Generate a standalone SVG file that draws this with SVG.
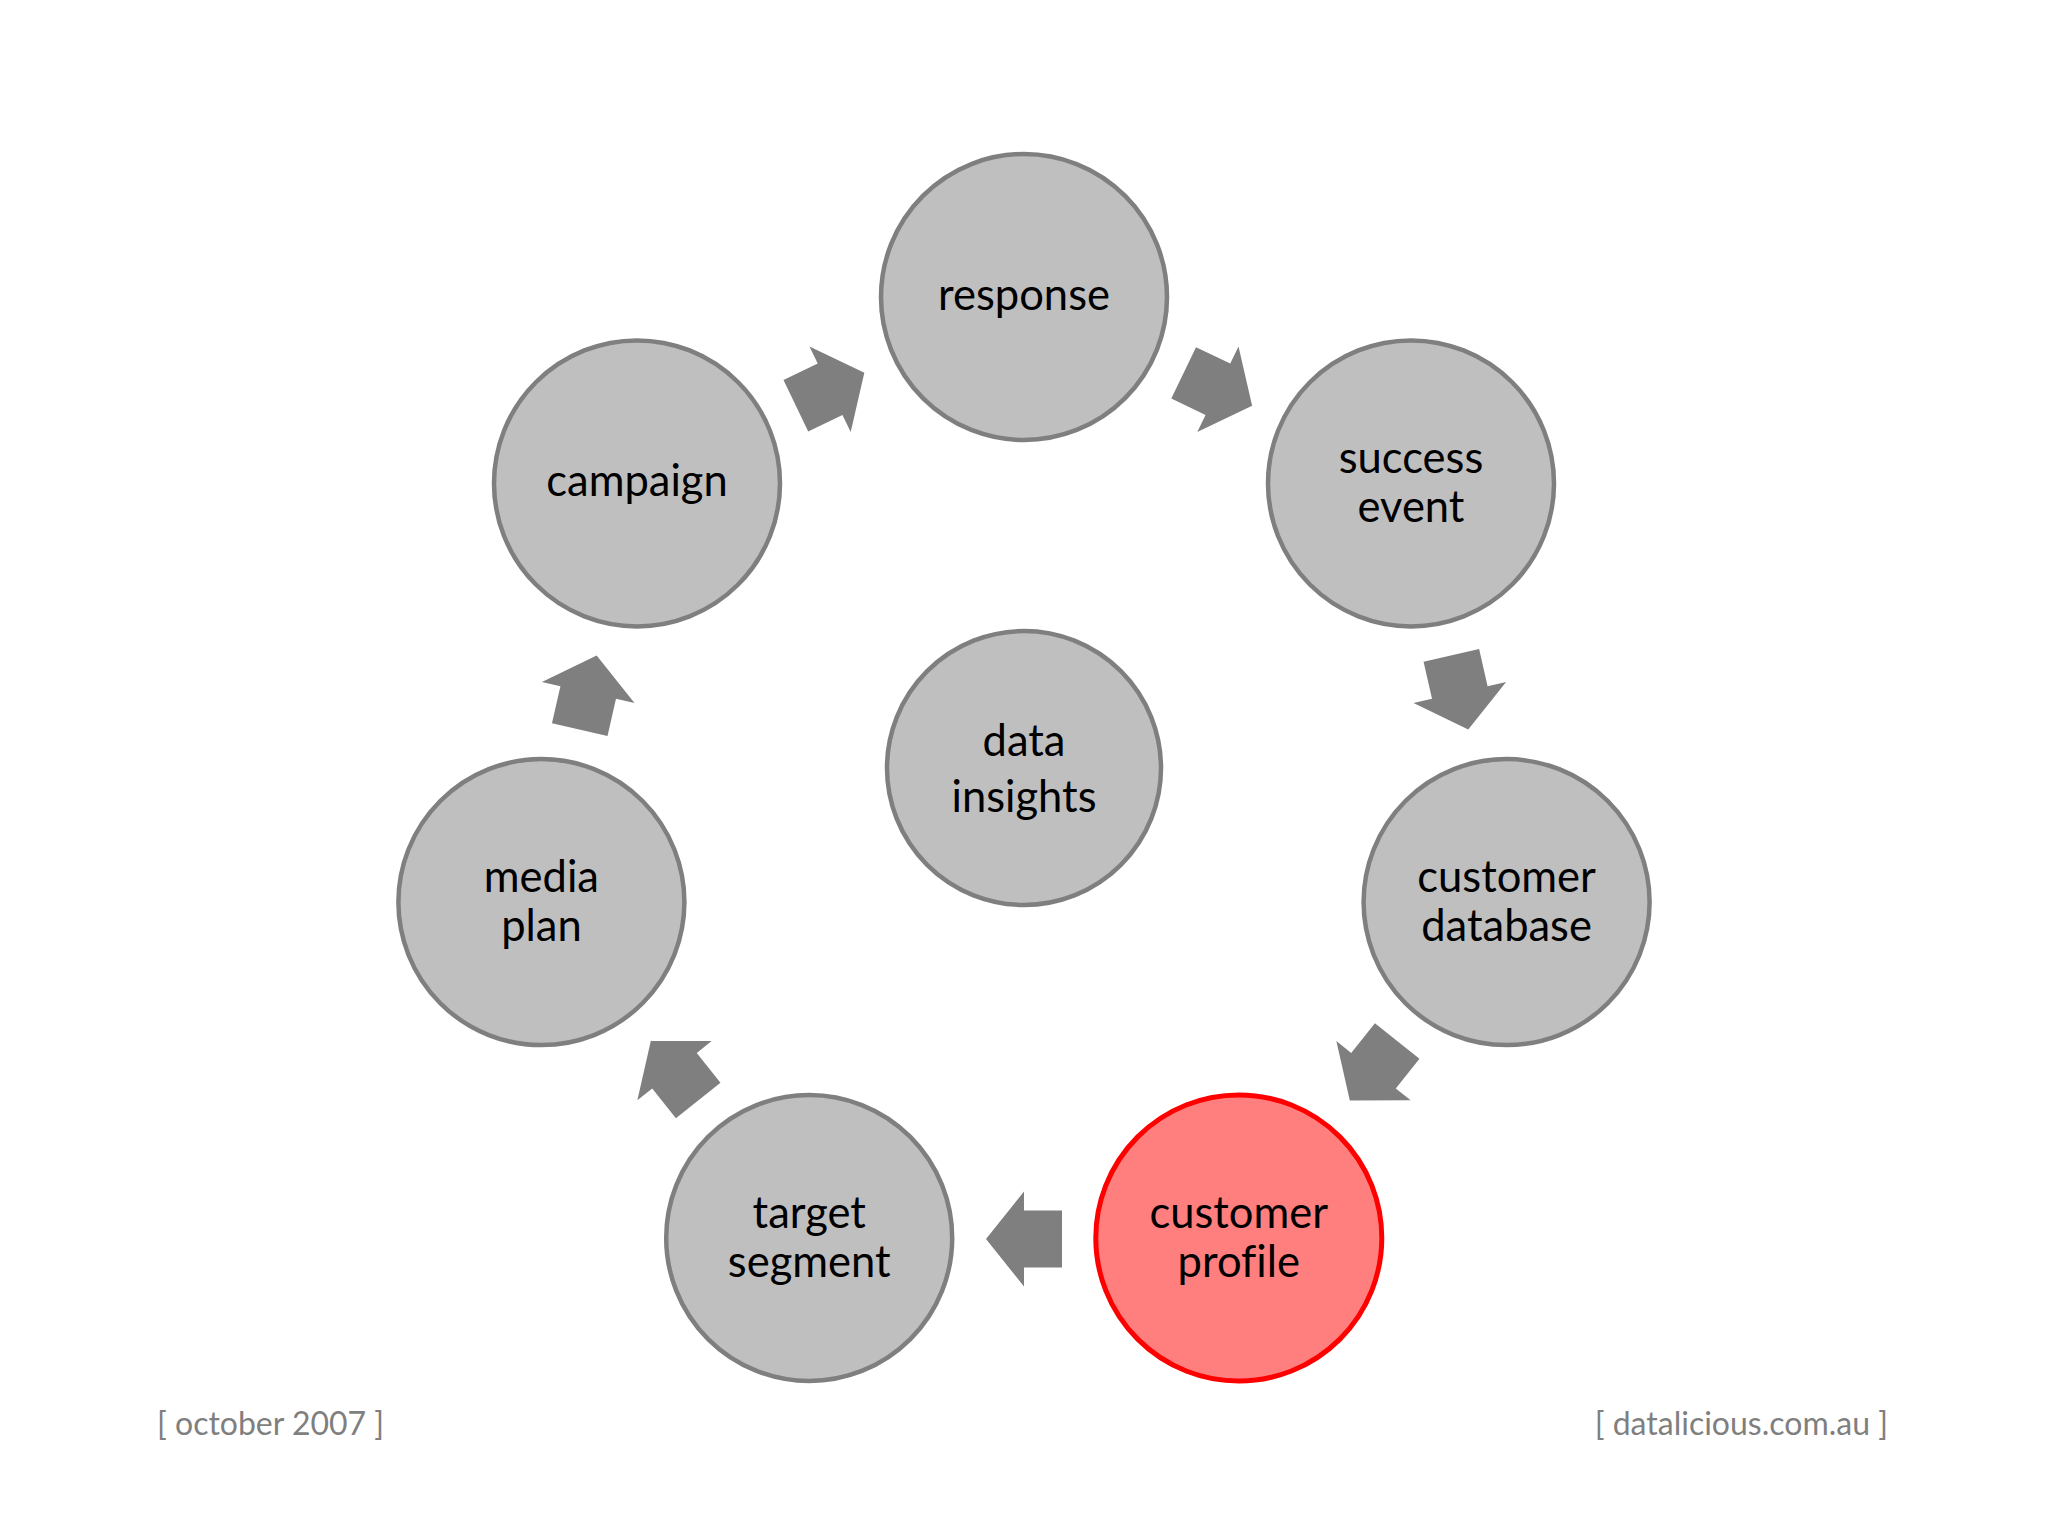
<svg xmlns="http://www.w3.org/2000/svg" width="2048" height="1536" viewBox="0 0 2048 1536">
<defs>
<style>
.node{fill:#BFBFBF;stroke:#7F7F7F;stroke-width:4.5}
.hl{fill:#FF7F7F;stroke:#FF0000;stroke-width:5}
.lbl{font-family:Lato,"Open Sans","Liberation Sans",sans-serif;font-size:43.5px;fill:#000;text-anchor:middle;font-variant-ligatures:none}
.arr{fill:#7F7F7F}
.foot{font-family:Lato,"Open Sans","Liberation Sans",sans-serif;font-size:32px;fill:#7F7F7F}
</style>
<polygon id="blockArrow" points="-38,-28.5 0,-28.5 0,-47.5 38,0 0,47.5 0,28.5 -38,28.5"/>
</defs>
<rect width="2048" height="1536" fill="#FFFFFF"/>
<g id="connectors">
<use href="#blockArrow" class="arr" transform="translate(1217.9,389.3) rotate(25.714)"/>
<use href="#blockArrow" class="arr" transform="translate(1459.8,692.5) rotate(77.143)"/>
<use href="#blockArrow" class="arr" transform="translate(1373.5,1070.7) rotate(128.571)"/>
<use href="#blockArrow" class="arr" transform="translate(1024,1239) rotate(180)"/>
<use href="#blockArrow" class="arr" transform="translate(674.5,1070.7) rotate(231.429)"/>
<use href="#blockArrow" class="arr" transform="translate(588.2,692.5) rotate(282.857)"/>
<use href="#blockArrow" class="arr" transform="translate(830.1,389.3) rotate(334.286)"/>
</g>
<g id="node-response">
<circle class="node" cx="1024" cy="297" r="143"/>
<text class="lbl" x="1024" y="310">response</text>
</g>
<g id="node-success-event">
<circle class="node" cx="1411" cy="483.4" r="143"/>
<text class="lbl" x="1411" y="473">success</text>
<text class="lbl" x="1411" y="522">event</text>
</g>
<g id="node-customer-database">
<circle class="node" cx="1506.6" cy="902.1" r="143"/>
<text class="lbl" x="1506.6" y="892">customer</text>
<text class="lbl" x="1506.6" y="941">database</text>
</g>
<g id="node-customer-profile">
<circle class="hl" cx="1238.8" cy="1238" r="143"/>
<text class="lbl" x="1238.8" y="1228">customer</text>
<text class="lbl" x="1238.8" y="1277">profile</text>
</g>
<g id="node-target-segment">
<circle class="node" cx="809.2" cy="1238" r="143"/>
<text class="lbl" x="809.2" y="1228">target</text>
<text class="lbl" x="809.2" y="1277">segment</text>
</g>
<g id="node-media-plan">
<circle class="node" cx="541.4" cy="902.1" r="143"/>
<text class="lbl" x="541.4" y="892">media</text>
<text class="lbl" x="541.4" y="941">plan</text>
</g>
<g id="node-campaign">
<circle class="node" cx="637" cy="483.4" r="143"/>
<text class="lbl" x="637" y="496">campaign</text>
</g>
<g id="node-data-insights">
<circle class="node" cx="1024" cy="768" r="137"/>
<text class="lbl" x="1024" y="756">data</text>
<text class="lbl" x="1024" y="812">insights</text>
</g>
<text class="foot" x="157" y="1435">[ october 2007 ]</text>
<text class="foot" x="1888" y="1435" text-anchor="end">[ datalicious.com.au ]</text>
</svg>
